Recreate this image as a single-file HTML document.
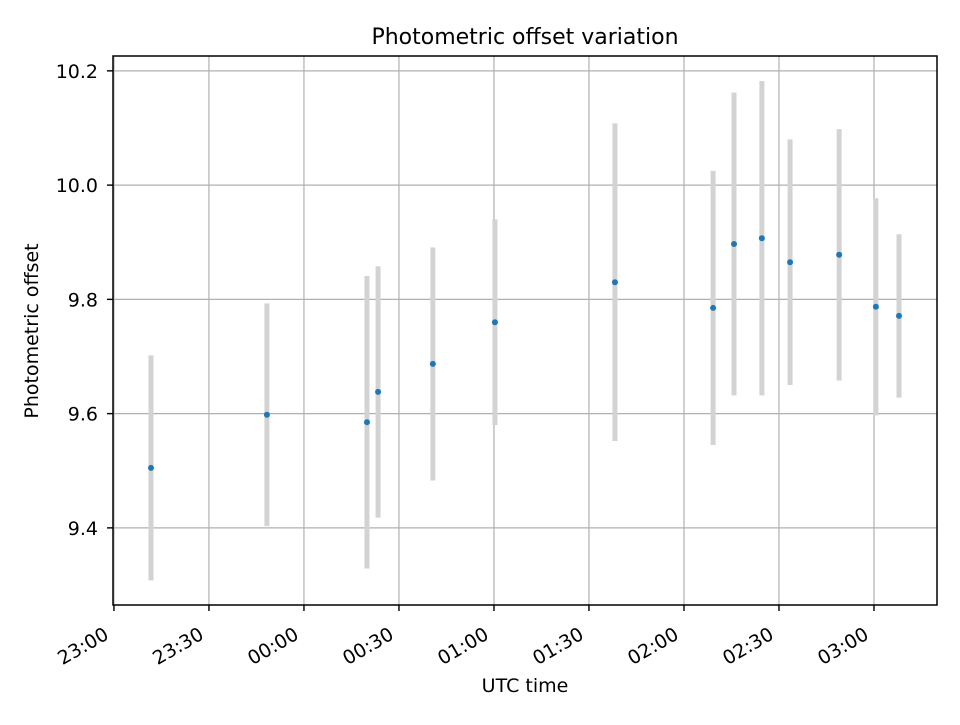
<!DOCTYPE html>
<html><head><meta charset="utf-8"><style>
body{margin:0;background:#fff}
svg text{font-family:"DejaVu Sans","Liberation Sans",sans-serif;fill:#000}
</style></head><body>
<svg id="chart" width="960" height="720" xmlns="http://www.w3.org/2000/svg">
<rect width="960" height="720" fill="#fff"/>
<text x="525" y="44" font-size="22" text-anchor="middle">Photometric offset variation</text>
<g id="grid"></g>
<g id="marks"></g>
<rect x="113" y="56" width="824" height="549" fill="none" stroke="#000" stroke-width="1.5"/>
<g id="axes"></g>
<text x="525" y="692" font-size="19" text-anchor="middle">UTC time</text>
<text transform="translate(38,331) rotate(-90)" font-size="19" text-anchor="middle">Photometric offset</text>
</svg>
<script>
// minutes since 23:00
const times=[11.7,48.3,79.9,83.4,100.7,120.3,158.2,189.2,195.8,204.6,213.5,229,240.6,247.9];
const values=[9.505,9.598,9.585,9.638,9.687,9.76,9.83,9.785,9.897,9.907,9.865,9.878,9.787,9.771];
const errors=[0.197,0.195,0.256,0.22,0.204,0.18,0.278,0.24,0.265,0.275,0.215,0.22,0.19,0.143];
const xTicks=[0,30,60,90,120,150,180,210,240];
const xTickLabels=["23:00","23:30","00:00","00:30","01:00","01:30","02:00","02:30","03:00"];
const yTicks=[9.4,9.6,9.8,10.0,10.2];
const yTickLabels=["9.4","9.6","9.8","10.0","10.2"];
const L=113,R=937,T=56,B=605,x0=-0.3,x1=259.9,y0=9.265,y1=10.226;
const X=v=>L+(v-x0)/(x1-x0)*(R-L), Y=v=>B-(v-y0)/(y1-y0)*(B-T);
const NS="http://www.w3.org/2000/svg";
function mk(p,t,a){const e=document.createElementNS(NS,t);for(const k in a)e.setAttribute(k,a[k]);p.appendChild(e);return e;}
const g=document.getElementById('grid'),m=document.getElementById('marks'),ax=document.getElementById('axes');
xTicks.forEach((t,i)=>{const x=X(t);
 const l=mk(g,'line',{x1:x,x2:x,y1:T,y2:B,stroke:'#b0b0b0','stroke-width':1.2});
 
 const k=mk(ax,'line',{x1:x,x2:x,y1:B,y2:B+6,stroke:'#000','stroke-width':1.4});
 
 const tx=mk(ax,'text',{transform:`translate(${x-4},${B+33}) rotate(-30)`,'font-size':19,'text-anchor':'end'});
 tx.textContent=xTickLabels[i];
 });
yTicks.forEach((t,i)=>{const y=Y(t);
 const l=mk(g,'line',{x1:L,x2:R,y1:y,y2:y,stroke:'#b0b0b0','stroke-width':1.2});
 
 const k=mk(ax,'line',{x1:L-6,x2:L,y1:y,y2:y,stroke:'#000','stroke-width':1.4});
 
 const tx=mk(ax,'text',{x:L-15,y:y+7,'font-size':19,'text-anchor':'end'});
 tx.textContent=yTickLabels[i];
 });
times.forEach((t,i)=>{const x=X(t);
 const e=mk(m,'line',{x1:x,x2:x,y1:Y(values[i]+errors[i]),y2:Y(values[i]-errors[i]),stroke:'#d3d3d3','stroke-width':5});
 });
times.forEach((t,i)=>{
 const c=mk(m,'circle',{cx:X(t),cy:Y(values[i]),r:3,fill:'#1f77b4'});
 });
</script>
</body></html>
